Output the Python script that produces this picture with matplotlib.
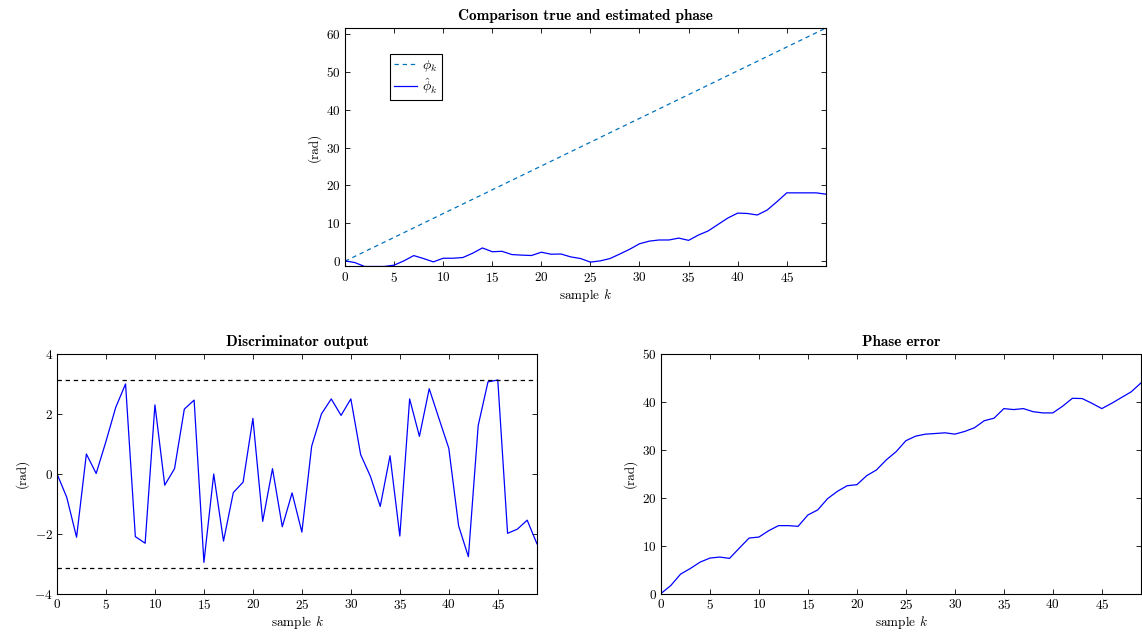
import numpy as np
import matplotlib
matplotlib.use("Agg")
import matplotlib.pyplot as plt

# computer-modern look for all text
plt.rcParams["font.family"] = "cmr10"
plt.rcParams["mathtext.fontset"] = "cm"
plt.rcParams["axes.formatter.use_mathtext"] = True
plt.rcParams["font.size"] = 9.5

k = np.arange(50)

# true phase is a straight ramp: just its two endpoints
true_k = [0, 49]
true_phase = [0.0, 61.6]

est_phase = [0.08, -0.36, -1.4, -1.4, -1.4, -1.05, 0.08, 1.48, 0.7, -0.18,
             0.78, 0.78, 0.96, 2.1, 3.5, 2.5, 2.6, 1.75, 1.6, 1.5,
             2.37, 1.84, 1.9, 1.13, 0.7, -0.25, 0.08, 0.7, 1.9, 3.15,
             4.6, 5.3, 5.6, 5.6, 6.1, 5.5, 6.9, 8.0, 9.7, 11.4,
             12.7, 12.6, 12.2, 13.5, 15.7, 18.05, 18.05, 18.05, 18.05, 17.7]

discr = [0.0, -0.79, -2.12, 0.66, 0.01, 1.08, 2.22, 3.0, -2.10, -2.32,
         2.30, -0.38, 0.17, 2.16, 2.46, -2.96, -0.01, -2.25, -0.63, -0.28,
         1.85, -1.59, 0.17, -1.77, -0.64, -1.95, 0.92, 2.0, 2.50, 1.95,
         2.50, 0.64, -0.09, -1.09, 0.60, -2.08, 2.50, 1.25, 2.84, 1.84,
         0.85, -1.74, -2.77, 1.61, 3.07, 3.13, -1.99, -1.85, -1.55, -2.34]

phase_err = [0.0, 1.67, 4.05, 5.23, 6.56, 7.40, 7.61, 7.33, 9.49, 11.58,
             11.79, 13.12, 14.17, 14.17, 14.03, 16.40, 17.45, 19.79, 21.32, 22.5,
             22.72, 24.6, 25.8, 27.9, 29.6, 31.9, 32.85, 33.27, 33.4, 33.55,
             33.27, 33.83, 34.6, 36.07, 36.6, 38.6, 38.4, 38.6, 37.95, 37.7,
             37.7, 39.1, 40.75, 40.7, 39.7, 38.6, 39.7, 40.9, 42.1, 43.96]


def style(ax):
    ax.tick_params(direction="in", top=True, right=True, length=3.5,
                   width=0.6, labelsize=9.5, pad=3)
    for s in ax.spines.values():
        s.set_linewidth(0.8)
    ax.set_xlim(0, 49)
    ax.set_xticks(np.arange(0, 50, 5))
    ax.set_xlabel("sample $k$", labelpad=2)
    ax.set_ylabel("(rad)", labelpad=4)


fig = plt.figure(figsize=(11.42, 6.36), dpi=100)

ax1 = fig.add_axes([0.3021, 0.581, 0.4212, 0.375])
ax1.plot(true_k, true_phase, color="#0072BD", lw=0.9, ls=(0, (3.5, 3)),
         label=r"$\phi_k$")
ax1.plot(k, est_phase, color="blue", lw=0.9, label=r"$\hat{\phi}_k$")
style(ax1)
ax1.set_ylim(-1.4, 61.6)
ax1.set_yticks(np.arange(0, 61, 10))
ax1.set_title("Comparison true and estimated phase", fontweight="bold",
              fontfamily="cmb10", fontsize=11, pad=6)
leg = ax1.legend(loc="upper left", bbox_to_anchor=(0.094, 0.891),
                 borderaxespad=0, fancybox=False, edgecolor="black",
                 framealpha=1, handlelength=1.6, borderpad=0.3,
                 labelspacing=0.15, handletextpad=0.4, fontsize=10)
leg.get_frame().set_linewidth(0.8)

ax2 = fig.add_axes([0.0499, 0.0668, 0.4203, 0.3766])
ax2.plot(k, discr, color="blue", lw=0.9)
ax2.axhline(np.pi, color="black", lw=0.9, ls=(0, (3.5, 3)))
ax2.axhline(-np.pi, color="black", lw=0.9, ls=(0, (3.5, 3)))
style(ax2)
ax2.set_ylim(-4, 4)
ax2.set_yticks([-4, -2, 0, 2, 4])
ax2.set_title("Discriminator output", fontweight="bold",
              fontfamily="cmb10", fontsize=11, pad=6)

ax3 = fig.add_axes([0.5788, 0.0668, 0.4203, 0.3766])
ax3.plot(k, phase_err, color="blue", lw=0.9)
style(ax3)
ax3.set_ylim(0, 50)
ax3.set_yticks(np.arange(0, 51, 10))
ax3.set_title("Phase error", fontweight="bold", fontfamily="cmb10",
              fontsize=11, pad=6)

fig.savefig("out.png", dpi=100)
